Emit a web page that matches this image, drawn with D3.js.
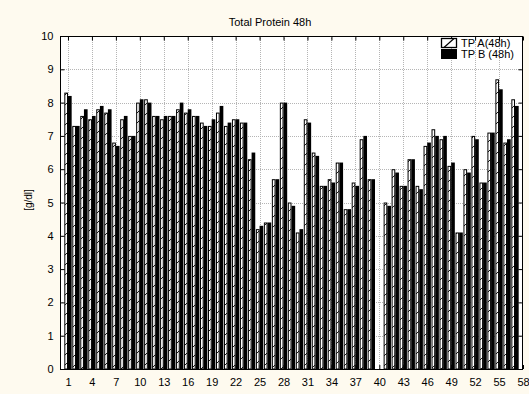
<!DOCTYPE html>
<html><head><meta charset="utf-8">
<script src="https://cdn.jsdelivr.net/npm/d3@7"></script>
<style>body{margin:0;background:#fefaef}svg{display:block}</style>
</head><body><svg id="c" width="529" height="394"></svg>
<script>
const categories = [1,2,3,4,5,6,7,8,9,10,11,12,13,14,15,16,17,18,19,20,21,22,23,24,25,26,27,28,29,30,31,32,33,34,35,36,37,38,39,40,41,42,43,44,45,46,47,48,49,50,51,52,53,54,55,56,57,58];
const tpA = [8.3,7.3,7.6,7.5,7.8,7.7,6.8,7.5,7.0,8.0,8.1,7.6,7.5,7.6,7.8,7.7,7.6,7.4,7.3,7.7,7.3,7.5,7.4,6.3,4.2,4.4,5.7,8.0,5.0,4.1,7.5,6.5,5.5,5.7,6.2,4.8,5.6,6.9,5.7,null,5.0,6.0,5.5,6.3,5.5,6.7,7.2,6.9,6.1,4.1,6.0,7.0,5.6,7.1,8.7,6.8,8.1,null];
const tpB = [8.2,7.3,7.8,7.6,7.9,7.8,6.7,7.6,7.0,8.1,8.0,7.6,7.6,7.6,8.0,7.8,7.6,7.3,7.5,7.9,7.4,7.5,7.4,6.5,4.3,4.4,5.7,8.0,4.9,4.2,7.4,6.4,5.5,5.6,6.2,4.8,5.5,7.0,5.7,null,4.9,5.9,5.5,6.3,5.4,6.8,7.0,7.0,6.2,4.1,5.9,6.9,5.6,7.1,8.4,6.9,7.9,null];
const xTickLabels = [1,4,7,10,13,16,19,22,25,28,31,34,37,40,43,46,49,52,55,58];
const yTickValues = [0,1,2,3,4,5,6,7,8,9,10];
const seriesNames = ["TP A(48h)", "TP B (48h)"];
const chartTitle = "Total Protein 48h";
const yAxisTitle = "[g/dl]";

const svg = d3.select("#c");
const FONT = "'Liberation Sans', Arial, sans-serif";
const L = 60, R = 523, T = 36, B = 369;

svg.append("rect").attr("width", 529).attr("height", 394).attr("fill", "#fefaef");

const defs = svg.append("defs");
const pat = defs.append("pattern").attr("id", "hatch").attr("patternUnits", "userSpaceOnUse")
  .attr("width", 10).attr("height", 10);
pat.append("rect").attr("width", 10).attr("height", 10).attr("fill", "#fff");
pat.append("path").attr("d", "M-1,1 L1,-1 M0,10 L10,0 M9,11 L11,9")
  .attr("stroke", "#000").attr("stroke-width", 0.9);

const x = d3.scaleLinear().domain([0, 58]).range([L, R]);
const y = d3.scaleLinear().domain([0, 10]).range([B, T]);
const band = x(1) - x(0);
const bw = band * 0.46;

svg.append("rect").attr("x", L).attr("y", T).attr("width", R - L).attr("height", B - T).attr("fill", "#fff");

// grid
const grid = svg.append("g").attr("stroke", "#b5b5b5").attr("stroke-width", 1).attr("stroke-dasharray", "1,1");
grid.selectAll("line.v").data(xTickLabels.filter(d => x(d) < R - 1)).join("line")
  .attr("x1", d => Math.round(x(d)) + 0.5).attr("x2", d => Math.round(x(d)) + 0.5)
  .attr("y1", T).attr("y2", B);
grid.selectAll("line.h").data(yTickValues.filter(d => d > 0 && d < 10)).join("line")
  .attr("y1", d => Math.round(y(d)) + 0.5).attr("y2", d => Math.round(y(d)) + 0.5)
  .attr("x1", L).attr("x2", R);

// bars
const rows = categories.map((c, i) => ({c, a: tpA[i], b: tpB[i]}));
const bars = svg.append("g");
bars.selectAll("rect.a").data(rows.filter(d => d.a != null)).join("rect")
  .attr("x", d => x(d.c) - bw + 0.5).attr("width", bw - 1)
  .attr("y", d => y(d.a) + 0.5).attr("height", d => y(0) - y(d.a) - 0.5)
  .attr("fill", "url(#hatch)").attr("stroke", "#000").attr("stroke-width", 1);
bars.selectAll("rect.b").data(rows.filter(d => d.b != null)).join("rect")
  .attr("x", d => x(d.c)).attr("width", bw)
  .attr("y", d => y(d.b)).attr("height", d => y(0) - y(d.b))
  .attr("fill", "#000");

// frame
svg.append("rect").attr("x", L + 0.5).attr("y", T + 0.5).attr("width", R - L - 1).attr("height", B - T)
  .attr("fill", "none").attr("stroke", "#000").attr("stroke-width", 1);

// axes
const yAxis = d3.axisLeft(y).tickValues(yTickValues).tickSize(-4).tickPadding(7).tickFormat(d3.format("d"));
const gy = svg.append("g").attr("transform", `translate(${L + 0.5},0)`).call(yAxis);
const xAxis = d3.axisBottom(x).tickValues(xTickLabels).tickSize(-4).tickPadding(9).tickFormat(d3.format("d"));
const gx = svg.append("g").attr("transform", `translate(0,${B})`).call(xAxis);
const gt = svg.append("g").attr("transform", `translate(0,${T + 0.5})`)
  .call(d3.axisTop(x).tickValues(xTickLabels).tickSize(-4).tickFormat(""));
const gr = svg.append("g").attr("transform", `translate(${R - 0.5},0)`)
  .call(d3.axisRight(y).tickValues(yTickValues).tickSize(-4).tickFormat(""));
[gy, gx, gt, gr].forEach(g => {
  g.select(".domain").remove();
  g.selectAll("line").attr("stroke", "#000");
  g.selectAll("text").attr("font-family", FONT).attr("font-size", 11).attr("fill", "#000");
});

// title
svg.append("text").attr("x", 270).attr("y", 26).attr("text-anchor", "middle")
  .attr("font-family", FONT).attr("font-size", 11).text(chartTitle);
svg.append("text").attr("transform", "translate(32,200) rotate(-90)").attr("text-anchor", "middle")
  .attr("font-family", FONT).attr("font-size", 10).text(yAxisTitle);

// legend
const lg = svg.append("g");
const boxX = 441, boxW = 15, boxH = 9;
lg.append("rect").attr("x", boxX + 0.5).attr("y", 38.5).attr("width", boxW).attr("height", boxH)
  .attr("fill", "#fff").attr("stroke", "#000").attr("stroke-width", 1.3);
lg.append("line").attr("x1", boxX + 3).attr("y1", 38.5 + boxH).attr("x2", boxX + boxW - 2).attr("y2", 38.5)
  .attr("stroke", "#000").attr("stroke-width", 1.2);
lg.append("rect").attr("x", boxX).attr("y", 49).attr("width", boxW + 1).attr("height", boxH + 1).attr("fill", "#000");
lg.selectAll("text").data(seriesNames).join("text")
  .attr("x", 461).attr("y", (d, i) => 47 + i * 11)
  .attr("font-family", FONT).attr("font-size", 11).text(d => d);
</script></body></html>
